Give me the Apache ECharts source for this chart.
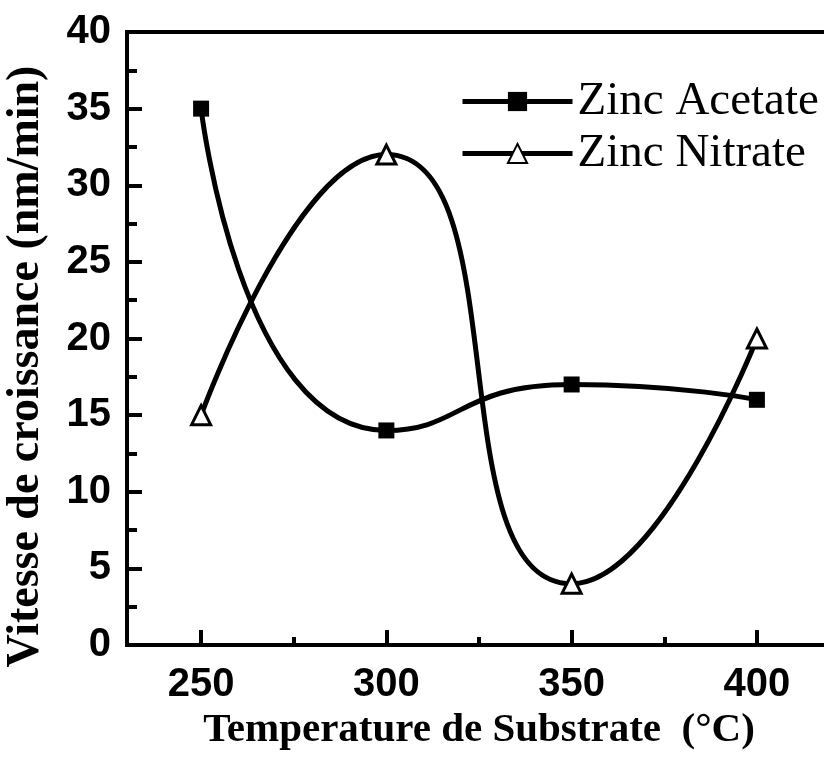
<!DOCTYPE html>
<html><head><meta charset="utf-8">
<script src="https://cdn.jsdelivr.net/npm/echarts@6/dist/echarts.min.js"></script>
<style>html,body{margin:0;padding:0;background:#fff}#c{width:824px;height:764px}</style>
</head><body><div id="c"></div>
<script>
const temperatures = [250, 300, 350, 400];
const zincAcetate = [35, 14, 17, 16];
const zincNitrate = [15, 32, 4, 20];
const xMajorTicks = [250, 300, 350, 400];
const xMinorTicks = [275, 325, 375];
const seriesNames = ['Zinc Acetate', 'Zinc Nitrate'];

const chart = echarts.init(document.getElementById('c'), null, {renderer: 'canvas'});
const tickFont = {fontFamily: '"Liberation Sans", Arial, sans-serif', fontWeight: 'bold', fontSize: 40, color: '#000'};
const serif = '"Liberation Serif", "Times New Roman", serif';
chart.setOption({
  animation: false,
  grid: {left: 127, top: 32, width: 704, height: 613, show: true, borderColor: '#000', borderWidth: 4, containLabel: false, outerBoundsMode: 'none'},
  legend: {
    data: seriesNames, orient: 'vertical', left: 455, top: 73, itemWidth: 110, itemHeight: 24, itemGap: 5,
    lineStyle: {width: 5},
    textStyle: {fontFamily: serif, fontSize: 47, color: '#000', padding: [0, 0, 0, 0]}
  },
  xAxis: [{
    type: 'value', min: 230, max: 420,
    axisLine: {show: true, lineStyle: {color: '#000', width: 4}},
    axisTick: {show: true, inside: true, length: 15, lineStyle: {width: 4, color: '#000'}, customValues: xMajorTicks},
    axisLabel: {...tickFont, margin: 20, customValues: xMajorTicks},
    splitLine: {show: false},
    name: 'Temperature de Substrate  (°C)', nameLocation: 'middle', nameGap: 58,
    nameTextStyle: {fontFamily: serif, fontWeight: 'bold', fontSize: 41, color: '#000'}
  }, {
    type: 'value', min: 230, max: 420, position: 'bottom',
    axisLine: {show: false},
    axisTick: {show: true, inside: true, length: 8, lineStyle: {width: 4, color: '#000'}, customValues: xMinorTicks},
    axisLabel: {show: false}, splitLine: {show: false}
  }],
  yAxis: {
    type: 'value', min: 0, max: 40, interval: 5,
    axisLine: {show: true, lineStyle: {color: '#000', width: 4}},
    axisTick: {show: true, inside: true, length: 15, lineStyle: {width: 4, color: '#000'}},
    minorTick: {show: true, splitNumber: 2, length: 10, lineStyle: {width: 4, color: '#000'}},
    axisLabel: {...tickFont, margin: 16},
    splitLine: {show: false},
    name: 'Vitesse de croissance (nm/min)', nameLocation: 'middle', nameGap: 78, nameRotate: 90,
    nameTextStyle: {fontFamily: serif, fontWeight: 'bold', fontSize: 46, color: '#000', padding: [0, 56, 0, 0]}
  },
  series: [{
    name: seriesNames[0], type: 'line', smooth: 0.6,
    data: temperatures.map((t, i) => [t, zincAcetate[i]]),
    symbol: 'rect', symbolSize: 16,
    lineStyle: {color: '#000', width: 5},
    itemStyle: {color: '#000', borderColor: '#000', borderWidth: 0}
  }, {
    name: seriesNames[1], type: 'line', smooth: 0.6,
    data: temperatures.map((t, i) => [t, zincNitrate[i]]),
    symbol: 'triangle', symbolSize: 19,
    lineStyle: {color: '#000', width: 5},
    itemStyle: {color: '#fff', borderColor: '#000', borderWidth: 3}
  }]
});
</script></body></html>
